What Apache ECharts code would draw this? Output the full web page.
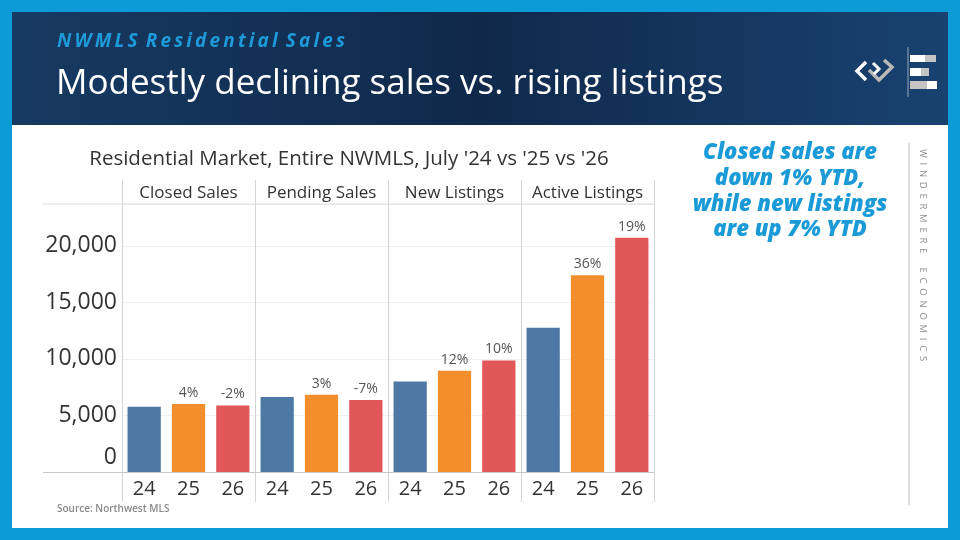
<!DOCTYPE html>
<html>
<head>
<meta charset="utf-8">
<title>NWMLS Residential Sales</title>
<script src="https://cdn.jsdelivr.net/npm/echarts@6/dist/echarts.min.js"></script>
<style>
  html, body { margin: 0; padding: 0; background: #0c9bd7; }
  #main { width: 960px; height: 540px; }
</style>
</head>
<body>
<div id="main"></div>
<script>
// data
var years = ['24', '25', '26'];
var panels = ['Closed Sales', 'Pending Sales', 'New Listings', 'Active Listings'];
var closedSales = [5780, 6010, 5890];
var pendingSales = [6640, 6840, 6360];
var newListings = [8000, 8960, 9860];
var activeListings = [12750, 17400, 20720];
var pctLabels = [
    ['', '4%', '-2%'],
    ['', '3%', '-7%'],
    ['', '12%', '10%'],
    ['', '36%', '19%']
];
var yearColors = ['#4e79a7', '#f28e2b', '#e15759'];

var panelData = [closedSales, pendingSales, newListings, activeListings];
var FONT = '"Open Sans", sans-serif';

var plotLeft = 122, panelW = 133, plotTop = 204, plotBottom = 472;

// spread letters out (no letterSpacing in canvas text)
function spaced(str, gap, wordGap) {
    return str.split(' ').map(function (w) { return w.split('').join(gap); }).join(wordGap);
}

var grids = [], xAxes = [], yAxes = [], series = [];
panels.forEach(function (name, i) {
    grids.push({
        left: plotLeft + i * panelW,
        top: plotTop,
        width: panelW,
        height: plotBottom - plotTop
    });
    xAxes.push({
        type: 'category',
        gridIndex: i,
        data: years,
        axisTick: { show: false },
        axisLine: { show: false },
        axisLabel: { fontSize: 20, color: '#333', fontFamily: FONT, margin: 7 }
    });
    yAxes.push({
        type: 'value',
        gridIndex: i,
        min: 0,
        max: 23700,
        interval: 5000,
        axisLine: { show: false },
        axisTick: { show: false },
        splitLine: { lineStyle: { color: '#f0f0f0', width: 1 } },
        axisLabel: {
            show: i === 0,
            showMaxLabel: false,
            margin: 5,
            fontSize: 23,
            color: '#333',
            fontFamily: FONT,
            formatter: function (v) {
                if (v % 5000 !== 0) return '';
                if (v === 0) return '{z|0}';
                return echarts.format.addCommas(v);
            },
            rich: {
                z: { fontSize: 23, color: '#333', fontFamily: FONT, padding: [0, 0, 30, 0] }
            }
        }
    });
    series.push({
        type: 'bar',
        name: name,
        xAxisIndex: i,
        yAxisIndex: i,
        barWidth: '75%',
        data: panelData[i].map(function (v, j) {
            return { value: v, itemStyle: { color: yearColors[j] } };
        }),
        label: {
            show: true,
            position: 'top',
            distance: 4,
            fontSize: 14,
            color: '#555',
            fontFamily: FONT,
            formatter: function (p) { return pctLabels[i][p.dataIndex]; }
        },
        emphasis: { disabled: true }
    });
});

var graphics = [
    // slide frame
    { type: 'rect', z: -10, shape: { x: 12, y: 12, width: 936, height: 516 }, style: { fill: '#ffffff' } },
    { type: 'rect', z: -9, shape: { x: 12, y: 12, width: 936, height: 113 },
      style: { fill: new echarts.graphic.LinearGradient(0, 0, 1, 0, [
          { offset: 0, color: '#173a62' },
          { offset: 0.5, color: '#10294b' },
          { offset: 1, color: '#194271' }
      ]) } },
    { type: 'text', z: 10, style: { x: 57, y: 42, text: spaced('NWMLS Residential Sales', '\u2009', ' \u2009'), fill: '#1e9ad8',
      font: 'italic bold 19px "Open Sans", sans-serif', verticalAlign: 'middle' } },
    { type: 'text', z: 10, style: { x: 56, y: 84, text: 'Modestly declining sales vs. rising listings', fill: '#ffffff',
      font: '500 35px "Open Sans", sans-serif', verticalAlign: 'middle' } },
    // logo
    { type: 'polyline', z: 10, shape: { points: [[866, 62], [857, 71], [866, 80]] }, style: { stroke: '#ffffff', lineWidth: 3.5, fill: null } },
    { type: 'polyline', z: 10, shape: { points: [[869, 70], [879, 80], [892, 67], [884, 60]] }, style: { stroke: '#b9b9b9', lineWidth: 3.5, fill: null } },
    { type: 'polyline', z: 10, shape: { points: [[873, 63], [879, 69], [874, 74]] }, style: { stroke: '#ffffff', lineWidth: 3, fill: null } },
    { type: 'line', z: 10, shape: { x1: 908, y1: 47, x2: 908, y2: 97 }, style: { stroke: '#9aa6b8', lineWidth: 1 } },
    { type: 'rect', z: 10, shape: { x: 910, y: 55, width: 15, height: 7 }, style: { fill: '#ffffff' } },
    { type: 'rect', z: 10, shape: { x: 925, y: 55, width: 11, height: 7 }, style: { fill: '#c4c4c4' } },
    { type: 'rect', z: 10, shape: { x: 910, y: 68, width: 11, height: 8 }, style: { fill: '#ffffff' } },
    { type: 'rect', z: 10, shape: { x: 921, y: 68, width: 8, height: 8 }, style: { fill: '#c4c4c4' } },
    { type: 'rect', z: 10, shape: { x: 910, y: 81, width: 17, height: 8 }, style: { fill: '#c4c4c4' } },
    { type: 'rect', z: 10, shape: { x: 927, y: 81, width: 10, height: 8 }, style: { fill: '#ffffff' } },
    // chart title
    { type: 'text', z: 10, style: { x: 349, y: 159, text: "Residential Market, Entire NWMLS, July '24 vs '25 vs '26",
      fill: '#333', font: '20.5px "Open Sans", sans-serif', align: 'center', verticalAlign: 'middle' } },
    // frame lines
    { type: 'line', z: 1, shape: { x1: 43, y1: plotTop, x2: 654, y2: plotTop }, style: { stroke: '#dcdcdc', lineWidth: 1 } },
    { type: 'line', z: 5, shape: { x1: 43, y1: plotBottom + 0.5, x2: 654, y2: plotBottom + 0.5 }, style: { stroke: '#c8c8c8', lineWidth: 1 } },
    { type: 'text', z: 10, style: { x: 57, y: 509, text: 'Source: Northwest MLS', fill: '#8a8a8a',
      font: '600 10px "Open Sans", sans-serif', verticalAlign: 'middle' } },
    // right side note
    { type: 'text', z: 10, style: { x: 790, y: 140, text: 'Closed sales are\ndown 1% YTD,\nwhile new listings\nare up 7% YTD',
      fill: '#1a9ad6', font: 'italic 800 22px "Open Sans", sans-serif', align: 'center', lineHeight: 25.7 } },
    { type: 'line', z: 10, shape: { x1: 909, y1: 143, x2: 909, y2: 505 }, style: { stroke: '#bdbdbd', lineWidth: 1 } },
    { type: 'text', z: 10, x: 923, y: 149, rotation: -Math.PI / 2,
      style: { x: 0, y: 0, text: spaced('WINDERMERE ECONOMICS', '\u2002', '\u2002\u2002\u2002'), fill: '#8c8c8c',
      font: '9.5px "Open Sans", sans-serif', align: 'left', verticalAlign: 'middle' } }
];

for (var k = 0; k <= panels.length; k++) {
    var lx = plotLeft + k * panelW + 0.5;
    graphics.push({ type: 'line', z: 1, shape: { x1: lx, y1: 180, x2: lx, y2: 502 }, style: { stroke: '#d4d4d4', lineWidth: 1 } });
}
panels.forEach(function (name, i) {
    graphics.push({ type: 'text', z: 10, style: { x: plotLeft + i * panelW + panelW / 2, y: 193, text: name,
        fill: '#333', font: '17px "Open Sans", sans-serif', align: 'center', verticalAlign: 'middle' } });
});

var myChart = echarts.init(document.getElementById('main'));
myChart.setOption({
    backgroundColor: '#0c9bd7',
    animation: false,
    grid: grids,
    xAxis: xAxes,
    yAxis: yAxes,
    series: series,
    graphic: { elements: graphics }
});
</script>
</body>
</html>
